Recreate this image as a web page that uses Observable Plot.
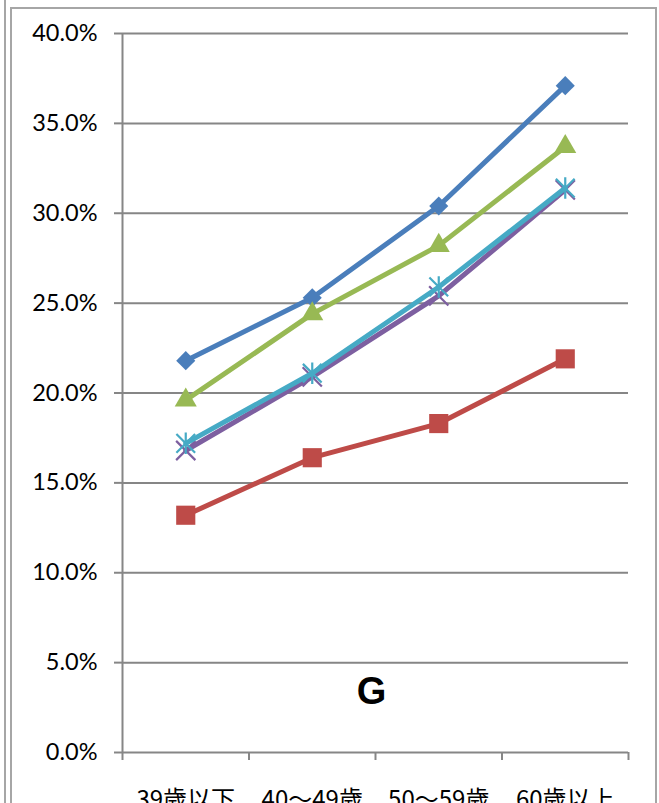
<!DOCTYPE html>
<html>
<head>
<meta charset="utf-8">
<script src="https://cdn.jsdelivr.net/npm/d3@7"></script>
<script src="https://cdn.jsdelivr.net/npm/@observablehq/plot@0.6"></script>
<style>
  html, body { margin: 0; padding: 0; background: #fff; }
  #wrap { position: relative; width: 659px; height: 803px; overflow: hidden; }
  #wrap svg { position: absolute; left: 0; top: 0; }
  .b { position: absolute; background: #a6a6a6; }
</style>
</head>
<body>
<div id="wrap">
  <div class="b" style="left:4px; top:0; width:2px; height:803px;"></div>
  <div class="b" style="left:10px; top:7px; width:2px; height:796px;"></div>
  <div class="b" style="left:10px; top:7px; width:647px; height:2px;"></div>
  <div class="b" style="left:655px; top:7px; width:2px; height:796px;"></div>
</div>
<script>
const categories = ["39歳以下", "40～49歳", "50～59歳", "60歳以上"];
const seriesBlue   = [21.8, 25.3, 30.4, 37.1];
const seriesRed    = [13.2, 16.4, 18.3, 21.9];
const seriesGreen  = [19.6, 24.4, 28.2, 33.7];
const seriesPurple = [16.8, 20.9, 25.4, 31.3];
const seriesCyan   = [17.2, 21.1, 25.9, 31.4];
const yTicks = [0, 5, 10, 15, 20, 25, 30, 35, 40];
const panelLabel = "G";

const gray = "#868686";
const star = {
  draw(ctx, size) {
    const r = Math.sqrt(size) * 0.6;
    ctx.moveTo(-r, -r); ctx.lineTo(r, r);
    ctx.moveTo(-r, r); ctx.lineTo(r, -r);
    ctx.moveTo(0, -r * 1.15); ctx.lineTo(0, r * 1.15);
  }
};

const series = [
  {values: seriesBlue,   color: "#4a7ebb", symbol: "diamond2", r: 8.6, filled: true},
  {values: seriesRed,    color: "#be4b48", symbol: "square",   r: 10.8, filled: true},
  {values: seriesGreen,  color: "#98b954", symbol: "triangle", r: 8.2, filled: true},
  {values: seriesPurple, color: "#7d5fa0", symbol: "times",    r: 8.8, filled: false},
  {values: seriesCyan,   color: "#46aac5", symbol: star,       r: 8.8, filled: false}
];

const bounds = d3.range(categories.length + 1);
const centers = categories.map((c, i) => i + 0.5);

const marks = [
  Plot.gridY(yTicks, {stroke: gray, strokeOpacity: 1, strokeWidth: 2}),
  Plot.axisY(yTicks, {
    tickSize: 8, tickPadding: 17, stroke: gray, strokeWidth: 2,
    tickFormat: d => d.toFixed(1) + "%", label: null,
    fontSize: 23.5, fill: "#000", fontFamily: "Lato"
  }),
  Plot.axisX(bounds, {tickSize: 8, tickFormat: () => "", stroke: gray, strokeWidth: 2, label: null}),
  Plot.axisX(centers, {
    tickSize: 0, tickPadding: 38, tickFormat: (d, i) => categories[i], label: null,
    fontSize: 24, fill: "#000", fontFamily: "Noto Sans CJK JP"
  }),
  Plot.ruleX([0], {y1: 0, y2: 40, stroke: gray, strokeWidth: 2})
];

for (const s of series) {
  const data = s.values.map((v, i) => ({x: i + 0.5, y: v}));
  marks.push(Plot.line(data, {x: "x", y: "y", stroke: s.color, strokeWidth: 5}));
  marks.push(Plot.dot(data, s.filled
    ? {x: "x", y: "y", symbol: s.symbol, r: s.r, fill: s.color, stroke: "none"}
    : {x: "x", y: "y", symbol: s.symbol, r: s.r, fill: "none", stroke: s.color, strokeWidth: 2.2}));
}

marks.push(Plot.text([panelLabel], {
  text: d => d, frameAnchor: "bottom", dx: -4, dy: -49, fontSize: 38, fontWeight: "bold",
  fontFamily: "Liberation Sans", fill: "#000"
}));

const chart = Plot.plot({
  width: 659, height: 803,
  marginLeft: 122, marginRight: 31, marginTop: 33, marginBottom: 51,
  style: {background: "transparent", overflow: "visible"},
  x: {type: "linear", domain: [0, 4], axis: null},
  y: {domain: [0, 40], axis: null},
  marks
});
document.getElementById("wrap").appendChild(chart);
</script>
</body>
</html>
